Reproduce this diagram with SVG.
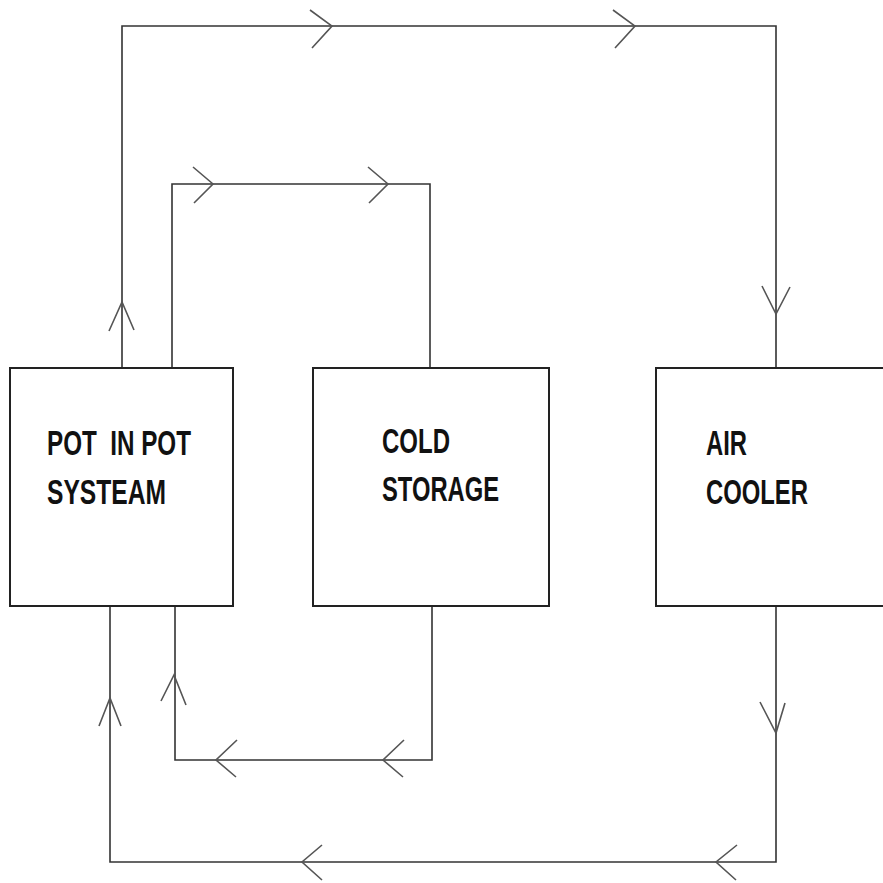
<svg xmlns="http://www.w3.org/2000/svg" width="883" height="883" viewBox="0 0 883 883">
<style>
.box{fill:#fff;stroke:#222;stroke-width:2}
.line{fill:none;stroke:#333;stroke-width:1.6}
.arr{fill:none;stroke:#555;stroke-width:1.6;stroke-linejoin:miter}
.lbl{font-family:"Liberation Sans",Arial,sans-serif;font-weight:bold;font-size:35px;fill:#111;white-space:pre}
</style>
<rect width="883" height="883" fill="#fff"/>
<g id="connectors">
<polyline class="line" points="122,368 122,26 776,26 776,368"/>
<polyline class="line" points="172,368 172,184 430,184 430,368"/>
<polyline class="line" points="776,606 776,862 110,862 110,606"/>
<polyline class="line" points="432,606 432,760 175,760 175,606"/>
<polyline class="arr" points="310,10 332,26 312,48"/>
<polyline class="arr" points="613,10 635,26 615,48"/>
<polyline class="arr" points="193,167 213,184 194,203"/>
<polyline class="arr" points="368,167 388,184 369,203"/>
<polyline class="arr" points="109,331 122,302 134,330"/>
<polyline class="arr" points="762,286 776,314 790,287"/>
<polyline class="arr" points="760,702 776,733 785,703"/>
<polyline class="arr" points="161,701 174,675 186,705"/>
<polyline class="arr" points="237,740 216,760 236,777"/>
<polyline class="arr" points="404,740 383,760 403,777"/>
<polyline class="arr" points="99,726 110,698 121,726"/>
<polyline class="arr" points="322,845 302,862 322,880"/>
<polyline class="arr" points="737,845 716,862 736,880"/>
</g>
<g id="pot-in-pot">
<rect class="box" x="10" y="368" width="223" height="238"/>
<text class="lbl" x="47" y="455" textLength="144" lengthAdjust="spacingAndGlyphs" xml:space="preserve">POT  IN POT</text>
<text class="lbl" x="47" y="504" textLength="119" lengthAdjust="spacingAndGlyphs">SYSTEAM</text>
</g>
<g id="cold-storage">
<rect class="box" x="313" y="368" width="236" height="238"/>
<text class="lbl" x="382" y="453" textLength="68" lengthAdjust="spacingAndGlyphs">COLD</text>
<text class="lbl" x="382" y="501" textLength="117" lengthAdjust="spacingAndGlyphs">STORAGE</text>
</g>
<g id="air-cooler">
<rect class="box" x="656" y="368" width="240" height="238"/>
<text class="lbl" x="706" y="455" textLength="41" lengthAdjust="spacingAndGlyphs">AIR</text>
<text class="lbl" x="706" y="504" textLength="102" lengthAdjust="spacingAndGlyphs">COOLER</text>
</g>
</svg>
